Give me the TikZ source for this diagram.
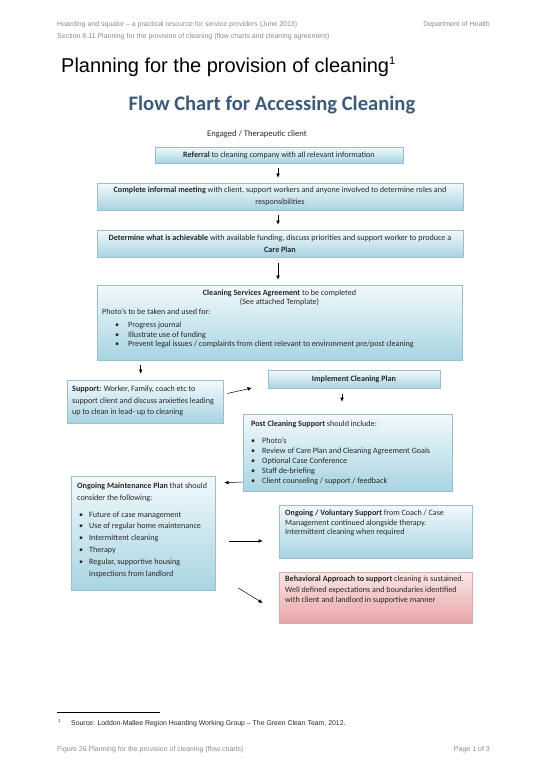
\documentclass[tikz,border=0pt]{standalone}
\usepackage{fontspec}
\setmainfont{Carlito}
\newfontfamily\arialf{Liberation Sans}
\usetikzlibrary{arrows.meta,shadows,calc}
\definecolor{boxline}{RGB}{158,190,205}
\definecolor{boxtop}{RGB}{242,249,252}
\definecolor{boxbot}{RGB}{168,212,226}
\definecolor{pinkline}{RGB}{212,175,175}
\definecolor{pinktop}{RGB}{250,230,230}
\definecolor{pinkbot}{RGB}{232,165,165}
\definecolor{txtc}{RGB}{40,40,40}
\definecolor{hdrc}{RGB}{140,140,140}
\definecolor{ttlc}{RGB}{62,90,120}
\newcommand\fsz[2]{\fontsize{#1}{#2}\selectfont}
\newcommand\bul[1][11pt]{\makebox[#1][l]{\textbullet}}
\begin{document}
\begin{tikzpicture}[x=1pt,y=-1pt,
  box/.style={draw=boxline, line width=0.6pt, top color=boxtop, bottom color=boxbot,
    drop shadow={shadow xshift=1.2pt, shadow yshift=-1.2pt, fill=black, opacity=0.22},
    inner sep=0pt, text=txtc, align=center, font=\fsz{8.1}{12}},
  pinkbox/.style={box, draw=pinkline, top color=pinktop, bottom color=pinkbot},
  txt/.style={inner sep=0pt, text=txtc, align=left, font=\fsz{8.1}{10}},
  hdr/.style={inner sep=0pt, text=hdrc, font=\arialf\fsz{7}{8}},
  arr/.style={-{Latex[length=4.2pt,width=3.8pt]}, line width=0.5pt, black}]
\useasboundingbox (0,0) rectangle (550,777);
\fill[white] (0,0) rectangle (550,777);

% header
\node[hdr, anchor=base west] (h1) at (57,26.5) {Hoarding and squalor – a practical resource for service providers (June 2013)};
\node[hdr, anchor=base west] (h2) at (57,38.5) {Section 8.11 Planning for the provision of cleaning (flow charts and cleaning agreement)};
\node[hdr, anchor=base east] (h3) at (490,26.5) {Department of Health};

% page title
\node[inner sep=0pt, anchor=base west, font=\arialf\fsz{20}{24}] (title) at (61,72) {Planning for the provision of cleaning\textsuperscript{\fsz{11}{12}1}};

% chart title
\node[inner sep=0pt, anchor=base, text=ttlc, font=\bfseries\fsz{20.6}{23}] (ctitle) at (272,110) {Flow Chart for Accessing Cleaning};
\node[inner sep=0pt, anchor=base, text=txtc, font=\fsz{8.6}{10}] (eng) at (257,136) {Engaged / Therapeutic client};

% main column
\node[box, minimum width=248pt, minimum height=16pt] (b1) at (279,155) {\textbf{Referral} to cleaning company with all relevant information};
\node[box, minimum width=366pt, minimum height=27pt] (b2) at (280,196.5) {\textbf{Complete informal meeting} with client, support workers and anyone involved to determine roles and\\responsibilities};
\node[box, minimum width=366pt, minimum height=27pt] (b3) at (280,243.5) {\textbf{Determine what is achievable} with available funding, discuss priorities and support worker to produce a\\\textbf{Care Plan}};

\node[box, minimum width=365pt, minimum height=75pt] (b4) at (279.5,322.5) {};
\node[txt, align=center, font=\fsz{8.1}{9}] (b4a) at (279.5,297.5) {\textbf{Cleaning Services Agreement} to be completed\\(See attached Template)};
\node[txt, anchor=base west] (b4b) at (102,314.5) {Photo’s to be taken and used for:};
\node[txt, anchor=west, font=\fsz{8.1}{9.2}] (b4c) at (115,335) {\bul[13pt]Progress journal\\\bul[13pt]Illustrate use of funding\\\bul[13pt]Prevent legal issues / complaints from client relevant to environment pre/post cleaning};

% support / implement
\node[box, minimum width=156pt, minimum height=43pt] (sup) at (145,401.5) {};
\node[txt, anchor=west, font=\fsz{8.1}{11.6}] (supt) at (72,401) {\textbf{Support:} Worker, Family, coach etc to\\support client and discuss anxieties leading\\up to clean in lead- up to cleaning};

\node[box, minimum width=172pt, minimum height=18pt] (impl) at (354,379) {\textbf{Implement Cleaning Plan}};

% post cleaning
\node[box, minimum width=209pt, minimum height=77pt] (post) at (347.5,452.5) {};
\node[txt, anchor=base west] (postt) at (251,426) {\textbf{Post Cleaning Support} should include:};
\node[txt, anchor=west, font=\fsz{8.1}{10}] (postl) at (251,461) {\bul Photo’s\\\bul Review of Care Plan and Cleaning Agreement Goals\\\bul Optional Case Conference\\\bul Staff de-briefing\\\bul Client counseling / support / feedback};

% maintenance
\node[box, minimum width=144pt, minimum height=114pt] (maint) at (143,533) {};
\node[txt, anchor=west, font=\fsz{8.1}{12}] (mt) at (77,492) {\textbf{Ongoing Maintenance Plan} that should\\consider the following:};
\node[txt, anchor=west, font=\fsz{8.1}{11.8}] (ml) at (79,544.5) {\bul[10pt]Future of case management\\\bul[10pt]Use of regular home maintenance\\\bul[10pt]Intermittent cleaning\\\bul[10pt]Therapy\\\bul[10pt]Regular, supportive housing\\\hspace*{10pt}inspections from landlord};

% voluntary
\node[box, minimum width=193pt, minimum height=53pt] (vol) at (375.5,531.5) {};
\node[txt, anchor=west, font=\fsz{8.1}{9.8}] (volt) at (285,523) {\textbf{Ongoing / Voluntary Support} from Coach / Case\\Management continued alongside therapy.\\Intermittent cleaning when required};

% behavioral
\node[pinkbox, minimum width=193pt, minimum height=51pt] (beh) at (375.5,597.5) {};
\node[txt, anchor=west, font=\fsz{8.1}{10.3}] (beht) at (285,590) {\textbf{Behavioral Approach to support} cleaning is sustained.\\Well defined expectations and boundaries identified\\with client and landlord in supportive manner};

% arrows
\draw[arr] ($(b1.south)+(-1,5)$) -- ($(b2.north)+(-2,-5)$);
\draw[arr] ($(b2.south)+(-2,5)$) -- ($(b3.north)+(-2,-5)$);
\draw[arr] ($(b3.south)+(-2,6)$) -- ($(b4.north)+(-1.5,-5)$);
\draw[arr] ($(b4.south west)+(44,5)$) -- ($(sup.north west)+(74,-6)$);
\draw[arr] ($(sup.east)+(4,-8)$) -- ($(impl.west)+(-16,9)$);
\draw[arr] ($(impl.south)+(-12,6)$) -- ($(post.north)+(-5.5,-12)$);
\draw[arr] ($(post.west)+(0,29.5)$) -- ($(maint.north east)+(9,7)$);
\draw[arr] ($(maint.east)+(14,8)$) -- ($(vol.west)+(-16,9.5)$);
\draw[arr] ($(maint.east)+(23,55)$) -- ($(beh.west)+(-16,5.5)$);

% footnote and footer
\draw[line width=0.5pt] (57,712) -- (160,712);
\node[inner sep=0pt, anchor=base west, text=txtc, font=\arialf\fsz{4.5}{5}] (fn1) at (58,722) {1};
\node[inner sep=0pt, anchor=base west, text=txtc, font=\arialf\fsz{6.9}{8}] (fn) at (71,725) {Source: Loddon-Mallee Region Hoarding Working Group – The Green Clean Team, 2012.};
\node[hdr, anchor=base west] (f1) at (57,751) {Figure 26 Planning for the provision of cleaning (flow charts)};
\node[hdr, anchor=base east] (f2) at (490,751) {Page 1 of 3};
\end{tikzpicture}
\end{document}
